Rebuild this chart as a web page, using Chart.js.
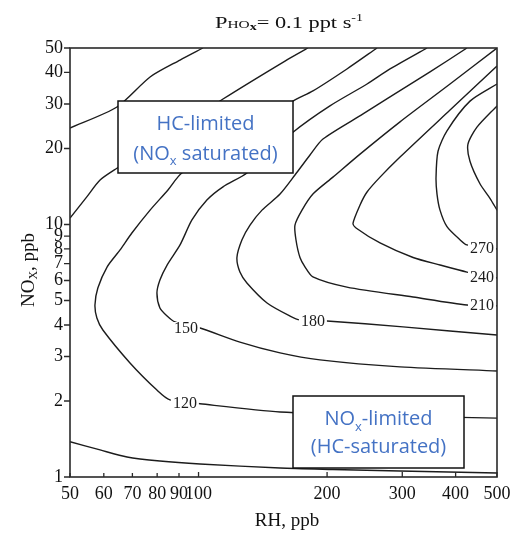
<!DOCTYPE html>
<html><head><meta charset="utf-8">
<script src="https://cdn.jsdelivr.net/npm/chart.js@4.4.1/dist/chart.umd.min.js"></script>
<style>html,body{margin:0;padding:0;background:#fff;}canvas{display:block;}</style>
</head><body>
<canvas id="c" width="517" height="533"></canvas>
<script>
// ---- axis ticks ----
const xTicks = [50,60,70,80,90,100,200,300,400,500];
const yTicks = [1,2,3,4,5,6,7,8,9,10,20,30,40,50];

// ---- contour lines (RH ppb, NOx ppb) ----
const c60_rh  = [50, 64.4, 77.0, 90.5, 102.4];
const c60_nox = [24.1, 29.2, 38.4, 44.8, 50];

const c90a_rh  = [50, 54.8, 58.8, 64.4, 114.1, 159.4, 180.4];
const c90a_nox = [10.6, 12.9, 15.0, 16.7, 31.4, 44.4, 50];

const c90b_rh  = [50, 58.8, 68.0, 81.2, 100.8, 155.2, 206.4, 296.4, 500];
const c90b_nox = [1.38, 1.28, 1.20, 1.157, 1.126, 1.085, 1.071, 1.056, 1.037];

const c120_rh  = [261.8, 222.6, 185.3, 166.4, 91.4, 84.8, 77.0, 69.8, 65.5, 61.1, 58.1, 57.2, 57.8, 59.7, 69.1, 79.9, 85.7, 100.8, 155.2, 296.4, 500];
const c120_nox = [50, 41.3, 33.8, 30.8, 16.0, 13.7, 11.4, 9.25, 7.93, 6.8, 5.60, 4.80, 4.26, 3.82, 2.83, 2.21, 2.02, 1.95, 1.81, 1.745, 1.71];

const c150_rh  = [342.9, 280.8, 248.1, 203.1, 166.4, 129.8, 114.1, 104.6, 96.5, 90.5, 84.4, 81.2, 79.9, 81.2, 84.4, 88.1, 100.8, 125.0, 155.2, 192.5, 296.4, 500];
const c150_nox = [50, 41.3, 36.0, 29.5, 23.2, 16.0, 14.1, 12.5, 10.42, 8.3, 6.91, 6.03, 5.35, 4.67, 4.34, 4.11, 3.89, 3.42, 3.10, 2.91, 2.73, 2.63];

const c180_rh  = [425.2, 348.4, 280.8, 242.8, 195.6, 182.4, 168.2, 155.2, 140.8, 132.0, 126.4, 123.0, 125.0, 129.8, 144.7, 163.8, 172.8, 199.9, 301.2, 500];
const c180_nox = [50, 40.2, 32.0, 27.4, 21.8, 18.85, 15.7, 13.2, 11.4, 9.95, 8.7, 7.4, 6.48, 5.87, 4.89, 4.34, 4.19, 4.15, 3.93, 3.65];

const c210_rh  = [500, 388.1, 296.4, 238.9, 206.4, 185.3, 174.7, 168.2, 169.1, 172.8, 177.5, 185.3, 222.6, 318.0, 425.2, 500];
const c210_nox = [50, 36.0, 25.5, 19.0, 15.4, 13.2, 11.4, 9.95, 8.7, 7.4, 6.8, 6.2, 5.65, 5.16, 4.80, 4.76];

const c240_rh  = [500, 388.1, 296.4, 266.1, 248.1, 238.9, 230.0, 233.8, 266.1, 318.0, 367.7, 425.2, 500];
const c240_nox = [42.4, 28.4, 18.5, 15.4, 13.45, 11.95, 10.1, 9.69, 8.45, 7.4, 6.91, 6.48, 6.14];

const c270_rh  = [500, 432.2, 381.8, 363.8, 359.9, 361.8, 367.7, 381.8, 409.5, 425.2, 500];
const c270_nox = [36.0, 30.8, 23.5, 19.5, 15.4, 13.2, 11.4, 9.8, 8.7, 8.3, 8.0];

const c300_rh  = [500, 448.8, 427.5, 432.2, 456.1, 481.4, 500];
const c300_nox = [29.5, 24.3, 20.8, 17.8, 14.5, 12.7, 11.4];

// ---- contour labels ----
const labelText = ['120','150','180','210','240','270'];
const labelRH   = [92.9, 93.4, 185.3, 461.1, 461.1, 461.1];
const labelNOx  = [1.96, 3.89, 4.15, 4.80, 6.2, 8.07];

const contours = [
  [c60_rh, c60_nox], [c90a_rh, c90a_nox], [c90b_rh, c90b_nox],
  [c120_rh, c120_nox], [c150_rh, c150_nox], [c180_rh, c180_nox],
  [c210_rh, c210_nox], [c240_rh, c240_nox], [c270_rh, c270_nox], [c300_rh, c300_nox]
];

const datasets = contours.map(([rh, nox]) => ({
  data: rh.map((v, i) => ({x: v, y: nox[i]})),
  showLine: true, borderColor: '#1c1c1c', borderWidth: 1.4,
  pointRadius: 0, tension: 0.25, fill: false
}));

const SERIF = '"Liberation Serif", "Times New Roman", serif';
const SANS = '"Open Sans", "Noto Sans", sans-serif';
const BLUE = '#4472C4';

function drawParts(ctx, parts, x, y, align) {
  let w = 0;
  parts.forEach(p => { ctx.font = p[1]; w += ctx.measureText(p[0]).width; });
  let cx = align === 'center' ? x - w / 2 : x;
  ctx.textAlign = 'left';
  parts.forEach(p => { ctx.font = p[1]; ctx.fillText(p[0], cx, y + (p[2] || 0)); cx += ctx.measureText(p[0]).width; });
  return w;
}

const overlay = {
  id: 'overlay',
  afterDatasetsDraw(chart) {
    const {ctx, chartArea: a, scales: {x, y}} = chart;
    ctx.save();
    // contour labels
    ctx.font = '16px ' + SERIF;
    ctx.textAlign = 'center'; ctx.textBaseline = 'middle';
    labelText.forEach((t, i) => {
      const px = x.getPixelForValue(labelRH[i]), py = y.getPixelForValue(labelNOx[i]);
      const w = ctx.measureText(t).width;
      ctx.fillStyle = '#fff';
      ctx.fillRect(px - w / 2 - 2, py - 6, w + 4, 12);
      ctx.fillStyle = '#1c1c1c';
      ctx.fillText(t, px, py + 1);
    });
    // frame
    ctx.strokeStyle = '#2a2a2a'; ctx.lineWidth = 1.6;
    ctx.strokeRect(a.left, a.top, a.right - a.left, a.bottom - a.top);
    // ticks
    ctx.lineWidth = 1.3;
    ctx.beginPath();
    xTicks.forEach(v => {
      const px = x.getPixelForValue(v);
      const len = (v === 100 || v >= 200) ? 5 : 4;
      ctx.moveTo(px, a.bottom); ctx.lineTo(px, a.bottom - len);
    });
    yTicks.forEach(v => {
      const py = y.getPixelForValue(v);
      ctx.moveTo(a.left - 6, py); ctx.lineTo(a.left, py);
    });
    ctx.stroke();

    // annotation boxes
    ctx.textBaseline = 'alphabetic';
    const boxes = [
      {l: a.left + 48, t: a.top + 53, w: 175, h: 72, cx: a.left + 135.5,
       lines: [[[ 'HC-limited', '20px ' + SANS ]], [[ '(NO', '20px ' + SANS ], [ 'x', '13px ' + SANS, 5 ], [ ' saturated)', '20px ' + SANS ]]],
       base: [a.top + 82, a.top + 112]},
      {l: a.left + 223, t: a.top + 348, w: 171, h: 72, cx: a.left + 308.5,
       lines: [[[ 'NO', '20px ' + SANS ], [ 'x', '13px ' + SANS, 6 ], [ '-limited', '20px ' + SANS ]], [[ '(HC-saturated)', '20px ' + SANS ]]],
       base: [a.top + 377, a.top + 405]}
    ];
    boxes.forEach(b => {
      ctx.fillStyle = '#fff';
      ctx.fillRect(b.l, b.t, b.w, b.h);
      ctx.strokeStyle = '#111'; ctx.lineWidth = 1.5;
      ctx.strokeRect(b.l, b.t, b.w, b.h);
      ctx.fillStyle = BLUE;
      b.lines.forEach((parts, i) => drawParts(ctx, parts, b.cx, b.base[i], 'center'));
    });

    // chart title
    ctx.fillStyle = '#111';
    const tparts = [['P', '16px ' + SERIF], ['HO', '11px ' + SERIF], ['x', 'bold 10px ' + SERIF, 2], ['= 0.1 ppt s', '16px ' + SERIF], ['-1', '10px ' + SERIF, -7]];
    let tw = 0; tparts.forEach(p => { ctx.font = p[1]; tw += ctx.measureText(p[0]).width; });
    ctx.save();
    ctx.translate(215, 28);
    ctx.scale(148 / tw, 1);
    drawParts(ctx, tparts, 0, 0, 'left');
    ctx.restore();

    // y axis title
    ctx.save();
    ctx.translate(34, 270);
    ctx.rotate(-Math.PI / 2);
    drawParts(ctx, [['NO', '19px ' + SERIF], ['X', '12px ' + SERIF, 3], [', ppb', '19px ' + SERIF]], 0, 0, 'center');
    ctx.restore();

    // x axis title
    drawParts(ctx, [['RH, ppb', '19px ' + SERIF]], 287, 526, 'center');
    ctx.restore();
  }
};

new Chart(document.getElementById('c'), {
  type: 'scatter',
  data: {datasets},
  options: {
    responsive: false, animation: false,
    layout: {padding: {top: 48, right: 20, left: 0, bottom: 0}},
    plugins: {legend: {display: false}, tooltip: {enabled: false}, title: {display: false}},
    scales: {
      x: {
        type: 'logarithmic', min: 50, max: 500,
        grid: {display: false, drawTicks: false}, border: {display: false},
        afterBuildTicks: s => { s.ticks = xTicks.map(v => ({value: v})); },
        afterFit: s => { s.height = 56; },
        ticks: {autoSkip: false, maxRotation: 0, padding: 6, color: '#111',
          font: {family: SERIF, size: 18}, callback: v => String(v)}
      },
      y: {
        type: 'logarithmic', min: 1, max: 50,
        grid: {display: false, drawTicks: false}, border: {display: false},
        afterBuildTicks: s => { s.ticks = yTicks.map(v => ({value: v})); },
        afterFit: s => { s.width = 70; },
        ticks: {autoSkip: false, padding: 7, color: '#111',
          font: {family: SERIF, size: 18}, callback: v => String(v)}
      }
    }
  },
  plugins: [overlay]
});
</script>
</body></html>
